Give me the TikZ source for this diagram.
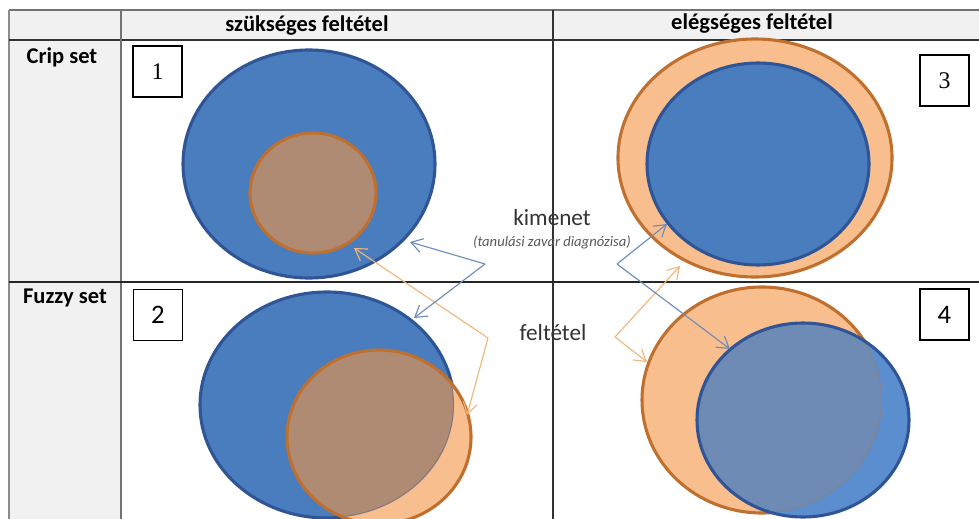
\documentclass[tikz,border=0pt]{standalone}
\usepackage{fontspec}
\setmainfont{Carlito}
\newfontfamily\timesfont{Liberation Serif}
\usetikzlibrary{arrows.meta}

\definecolor{setblue}{HTML}{4A7DBD}
\definecolor{setblueline}{HTML}{2F5597}
\definecolor{setorange}{HTML}{F9BE8E}
\definecolor{setorangeline}{HTML}{C0702E}
\definecolor{setbrown}{HTML}{B08B74}
\definecolor{setgrayblue}{HTML}{6E8BB6}
\definecolor{setlightblue}{HTML}{5A8ECF}
\definecolor{arrowblue}{HTML}{6C8BBA}
\definecolor{arroworange}{HTML}{F2B57A}
\definecolor{cellgray}{HTML}{F1F1F1}

\tikzset{
	blueset/.style={fill=setblue, draw=setblueline, line width=2.2pt},
	orangeset/.style={fill=setorange, draw=setorangeline, line width=2.2pt},
	numbox/.style={draw, fill=white, line width=0.9pt, minimum width=34.7pt, minimum height=36.2pt, inner sep=0pt},
	pointer/.style={line width=0.8pt, -{Straight Barb[length=8pt,width=10pt]}},
	head/.style={font=\fontsize{16}{19}\selectfont\bfseries},
	label/.style={font=\fontsize{16.5}{19}\selectfont, text=black!80},
}

\begin{document}
\begin{tikzpicture}[x=0.025cm, y=-0.025cm]
		\useasboundingbox (0,0) rectangle (979,519);
		\fill[white] (0,0) rectangle (979,519);

		% table
		\fill[cellgray] (9,10) rectangle (979,40);
		\fill[cellgray] (9,40) rectangle (121,519);
		\draw[black!55, line width=1.4pt] (9,10) -- (979,10);
		\draw[black!45, line width=1.4pt] (9,10) -- (9,519);
		\draw[black!80, line width=1.2pt] (9,40) -- (979,40);
		\draw[black!55, line width=1pt] (121,10) -- (121,519);
		\draw[black!80, line width=0.8pt] (553,10) -- (553,519);
		\draw[black!85, line width=1pt] (9,282) -- (979,282);

		% 1: crisp, necessary
		\draw[blueset] (309,164) ellipse [x radius=126, y radius=114];
		\draw[orangeset, fill=setbrown] (313,193) ellipse [x radius=63, y radius=60];

		% 3: crisp, sufficient
		\draw[orangeset] (755,158) ellipse [x radius=137, y radius=119];
		\draw[blueset] (758,164) ellipse [x radius=111, y radius=101];

		% 2: fuzzy, necessary
		\draw[blueset] (327,405) ellipse [x radius=127, y radius=113];
		\fill[setorange] (379,437) ellipse [x radius=92, y radius=87];
		\begin{scope}
			\clip (327,405) ellipse [x radius=127, y radius=113];
			\fill[setbrown] (379,437) ellipse [x radius=92, y radius=87];
			\draw[setblueline, line width=1.5pt, opacity=0.35] (327,405) ellipse [x radius=127, y radius=113];
		\end{scope}
		\draw[setorangeline, line width=2.2pt] (379,437) ellipse [x radius=92, y radius=87];

		% 4: fuzzy, sufficient
		\draw[orangeset] (762,400) ellipse [x radius=120, y radius=113];
		\fill[setlightblue] (803,420) ellipse [x radius=106, y radius=97];
		\begin{scope}
			\clip (762,400) ellipse [x radius=120, y radius=113];
			\fill[setgrayblue] (803,420) ellipse [x radius=106, y radius=97];
			\draw[setorangeline, line width=1.5pt, opacity=0.3] (762,400) ellipse [x radius=120, y radius=113];
		\end{scope}
		\draw[setblueline, line width=2.2pt] (803,420) ellipse [x radius=106, y radius=97];

		% number boxes
		\node[numbox, font=\timesfont\fontsize{17}{19}\selectfont] (box1) at (157.5,71.5) {1};
		\node[numbox, font=\fontsize{19}{21}\selectfont] (box2) at (158,315) {2};
		\node[numbox, font=\timesfont\fontsize{17}{19}\selectfont] (box3) at (944.5,80.5) {3};
		\node[numbox, font=\fontsize{19}{21}\selectfont] (box4) at (944.5,314.5) {4};

		% headings
		\node[head] (nec) at (307,26) {szükséges feltétel};
		\node[head] (suf) at (752,24) {elégséges feltétel};
		\node[head] (crisp) at (62,57) {Crip set};
		\node[head] (fuzzy) at (65,298) {Fuzzy set};

		% labels in the middle
		\node[label] (out) at (552,218) {kimenet};
		\node[font=\fontsize{10.4}{12}\selectfont\itshape, text=black!65] (outsub) at (552,242) {(tanulási zavar diagnózisa)};
		\node[label] (cond) at (553,333) {feltétel};

		% pointers
		\coordinate (outL) at (485,264);
		\coordinate (outR) at (617,264);
		\coordinate (condL) at (488,338);
		\coordinate (condR) at (615,337);
		\coordinate (tipA) at (410,242);
		\coordinate (tipB) at (414,318);
		\coordinate (tipC) at (354,248);
		\coordinate (tipD) at (467,415);
		\coordinate (tipE) at (667,224);
		\coordinate (tipF) at (730,349);
		\coordinate (tipG) at (680,266);
		\coordinate (tipH) at (647,362);

		\draw[pointer, arroworange] (condL) -- (tipC);
		\draw[pointer, arroworange] (condL) -- (tipD);
		\draw[pointer, arroworange] (condR) -- (tipG);
		\draw[pointer, arroworange] (condR) -- (tipH);
		\draw[pointer, arrowblue] (outL) -- (tipA);
		\draw[pointer, arrowblue] (outL) -- (tipB);
		\draw[pointer, arrowblue] (outR) -- (tipE);
		\draw[pointer, arrowblue] (outR) -- (tipF);
	\end{tikzpicture}
\end{document}
